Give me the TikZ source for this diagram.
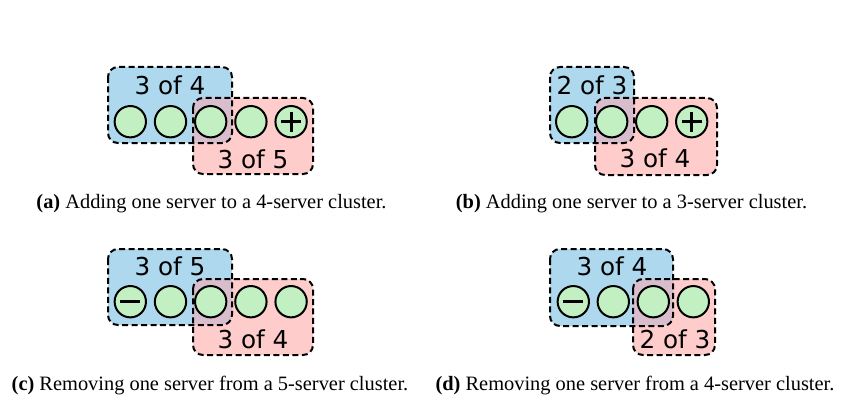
\documentclass[tikz,border=0pt]{standalone}
\usepackage{fontspec}
\setmainfont{Liberation Serif}
\newfontfamily\tagfont{DejaVu Sans}
\definecolor{boxblue}{HTML}{ADD8EE}
\definecolor{boxpink}{HTML}{FFCCCC}
\definecolor{boxmix}{HTML}{D8BECC}
\definecolor{srvgreen}{HTML}{C2F0C2}

\begin{document}
\begin{tikzpicture}[x=0.75pt, y=-0.75pt,
    srv/.style={circle, draw=black, line width=1.5pt, fill=srvgreen,
        minimum size=23.5pt, inner sep=0pt},
    grp/.style={draw=black, line width=1.5pt, dash pattern=on 4.5pt off 2.6pt,
        rounded corners=7.5pt},
    tag/.style={anchor=base, inner sep=0pt, font=\tagfont\fontsize{18.5}{20}\selectfont},
    captext/.style={anchor=base, inner sep=0pt, font=\fontsize{15.3}{17}\selectfont},
    sign/.style={line width=2.2pt}]
    % 0. Khung hình
    \useasboundingbox (0,0) rectangle (868,410);

    % 1. Hình (a): thêm một server vào cụm 4 server
    \fill[boxblue, rounded corners=7.5pt] (108,67) rectangle (232,143);
    \fill[boxpink, rounded corners=7.5pt] (193,98) rectangle (313,174);
    \begin{scope}
        \clip[rounded corners=7.5pt] (108,67) rectangle (232,143);
        \fill[boxmix, rounded corners=7.5pt] (193,98) rectangle (313,174);
    \end{scope}
    \draw[grp] (108,67) rectangle (232,143);
    \draw[grp] (193,98) rectangle (313,174);
    \foreach \i in {1,...,5}
        \node[srv] (a\i) at ({130.3+40.2*(\i-1)}, 121.7) {};
    \draw[sign] ([xshift=-7.5pt]a5.center) -- ([xshift=7.5pt]a5.center);
    \draw[sign] ([yshift=-7.5pt]a5.center) -- ([yshift=7.5pt]a5.center);
    \node[tag] (aold) at (170,95) {3 of 4};
    \node[tag] (anew) at (253,168) {3 of 5};
    \node[captext] (capa) at (211.5,208) {\textbf{(a)} Adding one server to a 4-server cluster.};

    % 2. Hình (b): thêm một server vào cụm 3 server
    \fill[boxblue, rounded corners=7.5pt] (550,67) rectangle (634,143);
    \fill[boxpink, rounded corners=7.5pt] (595,98) rectangle (717,175);
    \begin{scope}
        \clip[rounded corners=7.5pt] (550,67) rectangle (634,143);
        \fill[boxmix, rounded corners=7.5pt] (595,98) rectangle (717,175);
    \end{scope}
    \draw[grp] (550,67) rectangle (634,143);
    \draw[grp] (595,98) rectangle (717,175);
    \foreach \i in {1,...,4}
        \node[srv] (b\i) at ({571.7+40*(\i-1)}, 121.7) {};
    \draw[sign] ([xshift=-7.5pt]b4.center) -- ([xshift=7.5pt]b4.center);
    \draw[sign] ([yshift=-7.5pt]b4.center) -- ([yshift=7.5pt]b4.center);
    \node[tag] (bold) at (592,95) {2 of 3};
    \node[tag] (bnew) at (655,167) {3 of 4};
    \node[captext] (capb) at (631.5,208) {\textbf{(b)} Adding one server to a 3-server cluster.};

    % 3. Hình (c): bớt một server khỏi cụm 5 server
    \fill[boxblue, rounded corners=7.5pt] (108,249) rectangle (232,325);
    \fill[boxpink, rounded corners=7.5pt] (193,279) rectangle (313,355);
    \begin{scope}
        \clip[rounded corners=7.5pt] (108,249) rectangle (232,325);
        \fill[boxmix, rounded corners=7.5pt] (193,279) rectangle (313,355);
    \end{scope}
    \draw[grp] (108,249) rectangle (232,325);
    \draw[grp] (193,279) rectangle (313,355);
    \foreach \i in {1,...,5}
        \node[srv] (c\i) at ({130.3+40.2*(\i-1)}, 301.7) {};
    \draw[sign] ([xshift=-7.5pt]c1.center) -- ([xshift=7.5pt]c1.center);
    \node[tag] (cold) at (170,275) {3 of 5};
    \node[tag] (cnew) at (253,348) {3 of 4};
    \node[captext] (capc) at (210,390) {\textbf{(c)} Removing one server from a 5-server cluster.};

    % 4. Hình (d): bớt một server khỏi cụm 4 server
    \fill[boxblue, rounded corners=7.5pt] (550,249) rectangle (673,326);
    \fill[boxpink, rounded corners=7.5pt] (633,279) rectangle (715,355);
    \begin{scope}
        \clip[rounded corners=7.5pt] (550,249) rectangle (673,326);
        \fill[boxmix, rounded corners=7.5pt] (633,279) rectangle (715,355);
    \end{scope}
    \draw[grp] (550,249) rectangle (673,326);
    \draw[grp] (633,279) rectangle (715,355);
    \foreach \i in {1,...,4}
        \node[srv] (d\i) at ({573.3+40*(\i-1)}, 301.7) {};
    \draw[sign] ([xshift=-7.5pt]d1.center) -- ([xshift=7.5pt]d1.center);
    \node[tag] (dold) at (612,275) {3 of 4};
    \node[tag] (dnew) at (675,348) {2 of 3};
    \node[captext] (capd) at (635,390) {\textbf{(d)} Removing one server from a 4-server cluster.};
\end{tikzpicture}
\end{document}
